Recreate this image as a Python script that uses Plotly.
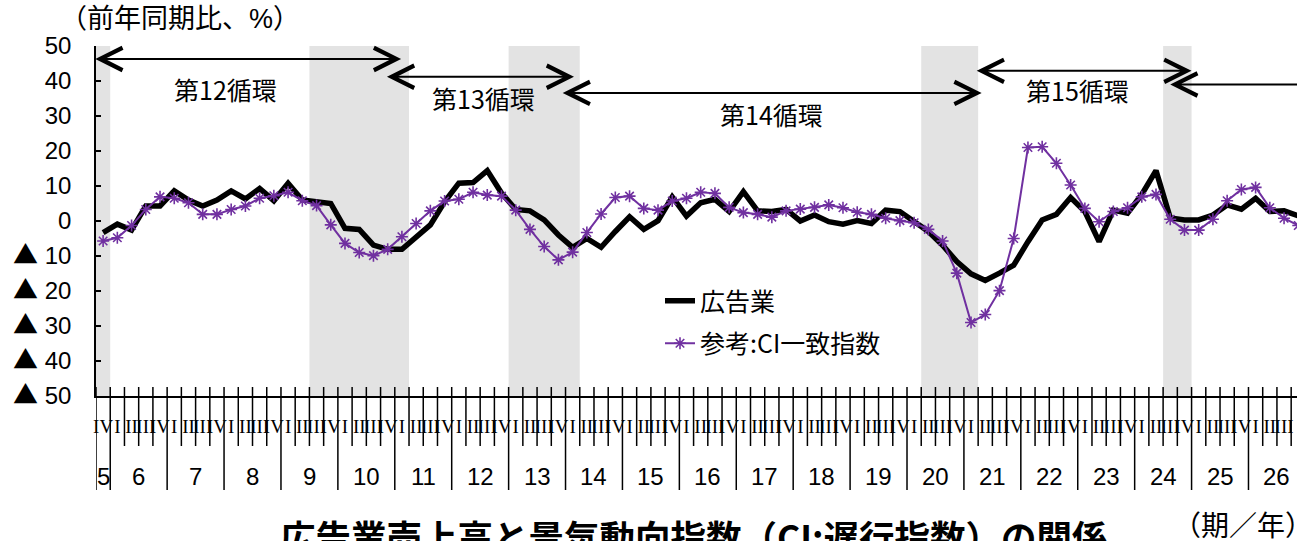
import plotly.graph_objects as go

# ---------------------------------------------------------------- data
years = [5, 6, 7, 8, 9, 10, 11, 12, 13, 14, 15, 16, 17, 18, 19, 20, 21, 22,
         23, 24, 25, 26]
quarter_names = ["I", "II", "III", "IV"]
first_quarter = "IV"          # the series opens in quarter IV of year 5

# 広告業 売上高 (前年同期比, %)
ad_sales = [
    -3.3, -0.9, -2.6, 4.3, 4.3, 8.6, 6.0, 4.3, 6.0, 8.6,
    6.3, 9.3, 5.8, 10.8, 6.0, 5.5, 5.0, -2.1, -2.4, -6.9,
    -8.1, -8.1, -4.5, -1.1, 5.5, 10.8, 11.0, 14.4, 8.0, 3.3,
    2.9, 0.3, -4.0, -7.5, -5.0, -7.5, -3.0, 1.2, -2.4, 0.1,
    6.9, 1.4, 5.2, 6.2, 2.7, 8.4, 2.9, 2.7, 3.3, 0.0,
    1.7, -0.2, -0.9, 0.1, -0.7, 3.1, 2.7, 0.0, -3.0, -6.9,
    -11.6, -15.1, -17.0, -14.9, -12.6, -5.9, 0.3, 1.9, 6.7, 2.7,
    -5.9, 3.1, 2.2, 7.6, 14.4, 0.9, 0.3, 0.3, 1.7, 4.6,
    3.4, 6.5, 2.7, 2.9, 1.5,
]

# 参考: CI一致指数 (前年同期比, %)
ci_coincident = [
    -5.7, -4.8, -1.3, 3.3, 6.9, 6.5, 5.2, 1.9, 1.9, 3.3,
    4.3, 6.5, 7.2, 8.2, 5.8, 4.4, -1.1, -6.4, -9.0, -9.9,
    -8.1, -4.5, -0.7, 2.9, 5.7, 6.2, 8.2, 7.4, 7.1, 3.1,
    -2.4, -7.3, -11.1, -8.9, -3.3, 2.0, 6.7, 7.1, 3.6, 3.1,
    5.7, 6.5, 8.2, 7.9, 3.9, 2.4, 1.9, 1.1, 2.9, 3.4,
    3.9, 4.6, 3.8, 2.5, 1.9, 0.8, 0.1, -0.5, -2.4, -5.7,
    -14.9, -29.0, -26.7, -19.9, -5.0, 21.0, 21.2, 16.5, 10.3, 3.6,
    -0.2, 2.7, 3.8, 6.9, 7.6, 0.5, -2.6, -2.6, 0.5, 5.8,
    9.0, 9.6, 3.8, 0.8, -1.3,
]

y_ticks = [50, 40, 30, 20, 10, 0, -10, -20, -30, -40, -50]

# recession phases (景気後退期): first and last shaded quarter
recessions = [
    ((5, "IV"), (5, "IV")),
    ((9, "III"), (11, "I")),
    ((13, "I"), (14, "I")),
    ((20, "II"), (21, "I")),
    ((24, "III"), (24, "IV")),
]

cycle_names = ["第12循環", "第13循環", "第14循環", "第15循環"]

series_names = ["広告業", "参考:CI一致指数"]
title_text = "広告業売上高と景気動向指数（CI:遅行指数）の関係"
y_unit_text = "（前年同期比、%）"
x_unit_text = "（期／年）"

# ------------------------------------------------------------- categories
categories = []
for yr in years:
    for q in quarter_names:
        if yr == years[0] and quarter_names.index(q) < quarter_names.index(first_quarter):
            continue
        categories.append((yr, q))
xpos = list(range(len(categories)))


def pos(cat):
    return categories.index(cat)


# ------------------------------------------------------------- geometry
FIG_W, FIG_H = 1297, 541
M_L, M_R, M_T, M_B = 96, 0, 46, 145
PLOT_H = FIG_H - M_T - M_B
PLOT_W = FIG_W - M_L - M_R
X_RANGE = [-0.5, 83.91]


def py(ypix):
    """page pixel row -> paper y"""
    return (FIG_H - M_B - ypix) / PLOT_H


def px(xpix):
    """page pixel column -> paper x"""
    return (xpix - M_L) / PLOT_W


SANS = "Liberation Sans, Noto Sans CJK JP, sans-serif"
CJK = "Noto Sans CJK JP, sans-serif"
NARROW = "Liberation Sans Narrow, Liberation Serif, serif"
PURPLE = "#7030A0"

fig = go.Figure()

fig.add_trace(go.Scatter(
    x=xpos, y=ad_sales, mode="lines", name=series_names[0],
    line=dict(color="black", width=5.5), legendgroup="a",
))
fig.add_trace(go.Scatter(
    x=xpos, y=ci_coincident, mode="lines+markers", name=series_names[1],
    line=dict(color=PURPLE, width=2), legendgroup="b",
    marker=dict(symbol="asterisk-open", size=10, color=PURPLE,
                line=dict(color=PURPLE, width=1.6)),
))

# recession shading
for (c0, c1) in recessions:
    fig.add_shape(type="rect", xref="x", yref="paper",
                  x0=pos(c0) - 0.5, x1=pos(c1) + 0.5, y0=0, y1=1,
                  fillcolor="#E3E3E3", line_width=0, layer="below")

# category-axis dividers: short ones between quarters, long ones between years
for i in range(len(categories) + 1):
    b = i - 0.5
    new_year = i == 0 or i == len(categories) or categories[i][1] == quarter_names[0]
    fig.add_shape(type="line", xref="x", yref="paper", x0=b, x1=b,
                  y0=py(387), y1=py(490 if new_year else 446),
                  line=dict(color="black", width=1.5))

# year labels centred under their quarters
for yr in years:
    idx = [i for i, c in enumerate(categories) if c[0] == yr]
    fig.add_annotation(x=(idx[0] + idx[-1]) / 2, y=py(476), xref="x", yref="paper",
                       xanchor="center", yanchor="middle",
                       text=str(yr), showarrow=False,
                       font=dict(family=SANS, size=24, color="black"))

# business-cycle arrows (start, end, level) and their labels (x, level)
cycle_arrows = [(-0.55, 21.05, 46.3), (19.95, 33.2, 41.2), (32.3, 61.85, 36.6),
                (61.4, 76.6, 42.9), (75.0, 95.0, 39.0)]
cycle_label_pos = [(8.6, 37.7), (26.7, 35.1), (47.0, 30.7), (68.5, 37.4)]

for (a0, a1, lvl) in cycle_arrows:
    fig.add_annotation(x=a0, y=lvl, ax=a1, ay=lvl, xref="x", yref="y",
                       axref="x", ayref="y", text="", showarrow=True,
                       arrowhead=5, startarrowhead=5, arrowside="end+start",
                       arrowsize=2.2, startarrowsize=2.2, arrowwidth=2,
                       arrowcolor="black", standoff=0, startstandoff=0)
for name, (lx, ly) in zip(cycle_names, cycle_label_pos):
    fig.add_annotation(x=lx, y=ly, xref="x", yref="y", text=name,
                       xanchor="center", yanchor="middle", showarrow=False,
                       font=dict(family=CJK, size=25, color="black"))

# unit captions and title
fig.add_annotation(x=px(58), y=py(19), xref="paper", yref="paper",
                   xanchor="left", yanchor="middle", text=y_unit_text,
                   showarrow=False, font=dict(family=SANS, size=27, color="black"))
fig.add_annotation(x=px(1171), y=py(524), xref="paper", yref="paper",
                   xanchor="left", yanchor="middle", text=x_unit_text,
                   showarrow=False, font=dict(family=CJK, size=28, color="black"))
fig.add_annotation(x=px(694), y=py(535), xref="paper", yref="paper",
                   xanchor="center", yanchor="middle",
                   text="<b>" + title_text + "</b>", showarrow=False,
                   font=dict(family=CJK, size=35.5, color="black"))

TRI = "<span style='font-family:Noto Sans CJK JP;font-size:25px'>▲</span>"
y_ticktext = [str(v) if v >= 0 else TRI + " " + str(-v) for v in y_ticks]

fig.update_layout(
    width=FIG_W, height=FIG_H,
    margin=dict(l=M_L, r=M_R, t=M_T, b=M_B, pad=0),
    paper_bgcolor="white", plot_bgcolor="white",
    font=dict(family=SANS, color="black"),
    showlegend=True,
    legend=dict(x=px(660), y=py(278), xanchor="left", yanchor="top",
                bgcolor="rgba(0,0,0,0)", tracegroupgap=7,
                font=dict(family=CJK, size=25, color="black")),
    xaxis=dict(range=X_RANGE, tickmode="array", tickvals=xpos,
               ticktext=[c[1] for c in categories], ticks="", tickangle=0,
               showline=True, linecolor="black", linewidth=1.5,
               showgrid=False, zeroline=False, ticklabelstandoff=12,
               tickfont=dict(family=NARROW, size=19, color="black")),
    yaxis=dict(range=[-50, 50], tickmode="array", tickvals=y_ticks,
               ticktext=y_ticktext, ticks="inside", ticklen=5, tickwidth=1.5,
               tickcolor="black", showline=True, linecolor="black",
               linewidth=1.5, showgrid=False, zeroline=False,
               ticklabelstandoff=18,
               tickfont=dict(family=SANS, size=24, color="black")),
)

fig.write_html("out.html")
